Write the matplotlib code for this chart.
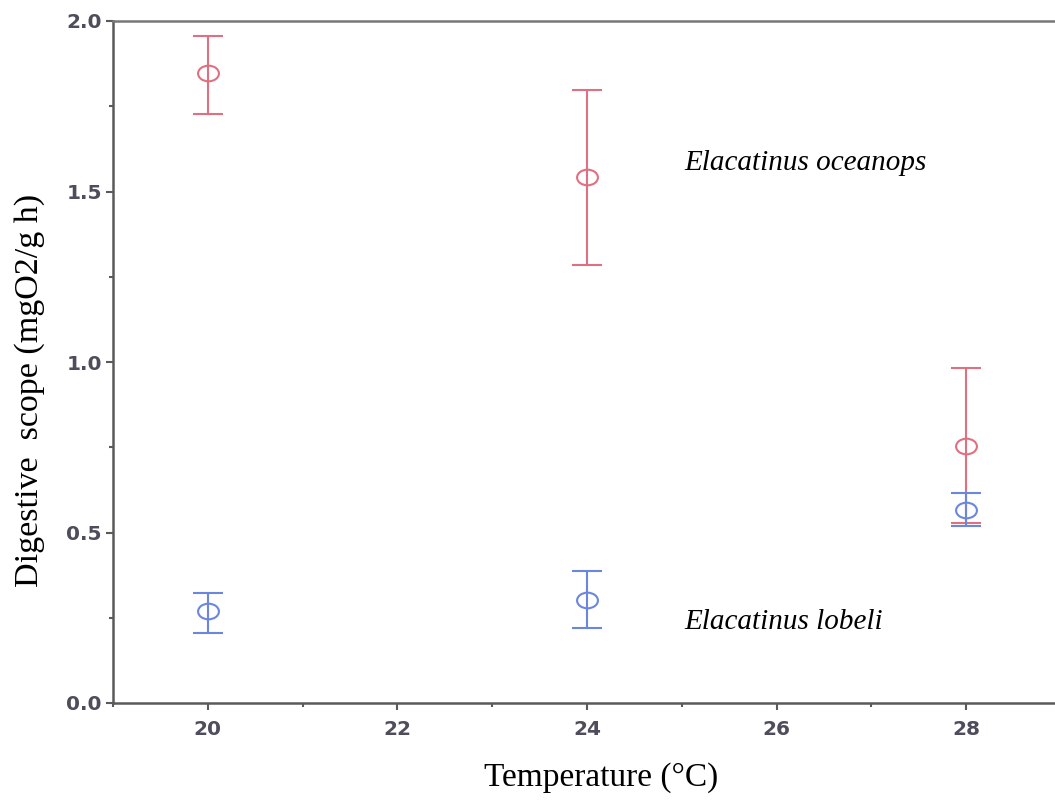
import matplotlib
matplotlib.use("Agg")
import matplotlib.pyplot as plt
import numpy as np
from matplotlib.path import Path
from matplotlib.transforms import Affine2D
from matplotlib.ticker import MultipleLocator

temps = [20, 24, 28]

# Elacatinus oceanops: mean and error bar ends
oceanops_mean = [1.847, 1.543, 0.754]
oceanops_low = [1.727, 1.284, 0.528]
oceanops_high = [1.956, 1.798, 0.982]

# Elacatinus lobeli
lobeli_mean = [0.270, 0.302, 0.566]
lobeli_low = [0.205, 0.220, 0.519]
lobeli_high = [0.323, 0.387, 0.616]

RED = "#e0707f"
BLUE = "#6a86df"
AXIS_GREY = "#5a5a5a"
TICK_GREY = "#4d4d5c"

# flattened open circle used as the point marker
ellipse = Path.unit_circle().transformed(Affine2D().scale(1.0, 0.75))

fig = plt.figure(figsize=(10.55, 8), dpi=100)
ax = fig.add_axes([113 / 1055, 1 - 703 / 800, (1061 - 113) / 1055, (703 - 21) / 800])


def draw_series(mean, low, high, color):
    mean = np.array(mean)
    yerr = [mean - np.array(low), np.array(high) - mean]
    ax.errorbar(temps, mean, yerr=yerr, fmt="none", ecolor=color,
                elinewidth=1.5, capsize=11, capthick=1.5)
    ax.plot(temps, mean, linestyle="none", marker=ellipse, markersize=15,
            markerfacecolor="none", markeredgecolor=color, markeredgewidth=1.5)


draw_series(oceanops_mean, oceanops_low, oceanops_high, RED)
draw_series(lobeli_mean, lobeli_low, lobeli_high, BLUE)

ax.set_xlim(19, 29)
ax.set_ylim(0, 2.0)
ax.xaxis.set_major_locator(MultipleLocator(2))
ax.xaxis.set_minor_locator(MultipleLocator(1))
ax.yaxis.set_major_locator(MultipleLocator(0.5))
ax.yaxis.set_minor_locator(MultipleLocator(0.25))
ax.yaxis.set_major_formatter(matplotlib.ticker.FormatStrFormatter("%.1f"))

for side in ["left", "bottom", "top"]:
    ax.spines[side].set_color(AXIS_GREY)
    ax.spines[side].set_linewidth(1.8)
ax.spines["top"].set_color("#777777")
ax.spines["right"].set_visible(False)

ax.tick_params(axis="both", which="major", direction="out", length=5, width=1.5,
               color=AXIS_GREY, labelcolor=TICK_GREY, labelsize=14.5)
ax.tick_params(axis="both", which="minor", direction="out", length=3, width=1.5,
               color=AXIS_GREY)
ax.tick_params(axis="x", which="major", pad=7)
ax.tick_params(axis="y", which="major", pad=3)
for lab in ax.get_xticklabels() + ax.get_yticklabels():
    lab.set_fontweight("bold")

serif = "Liberation Serif"
fig.text(601 / 1055, 1 - 778 / 800, "Temperature (\u00b0C)", family=serif,
         fontsize=24, ha="center", va="center")
fig.text(30 / 1055, 1 - 390 / 800, "Digestive  scope (mgO2/g h)", family=serif,
         fontsize=24.5, rotation=90, ha="center", va="center")

ax.text(25.03, 1.583, "Elacatinus oceanops", family=serif, style="italic",
        fontsize=21, ha="left", va="center")
ax.text(25.03, 0.238, "Elacatinus lobeli", family=serif, style="italic",
        fontsize=21, ha="left", va="center")

fig.savefig("out.png", dpi=100)
